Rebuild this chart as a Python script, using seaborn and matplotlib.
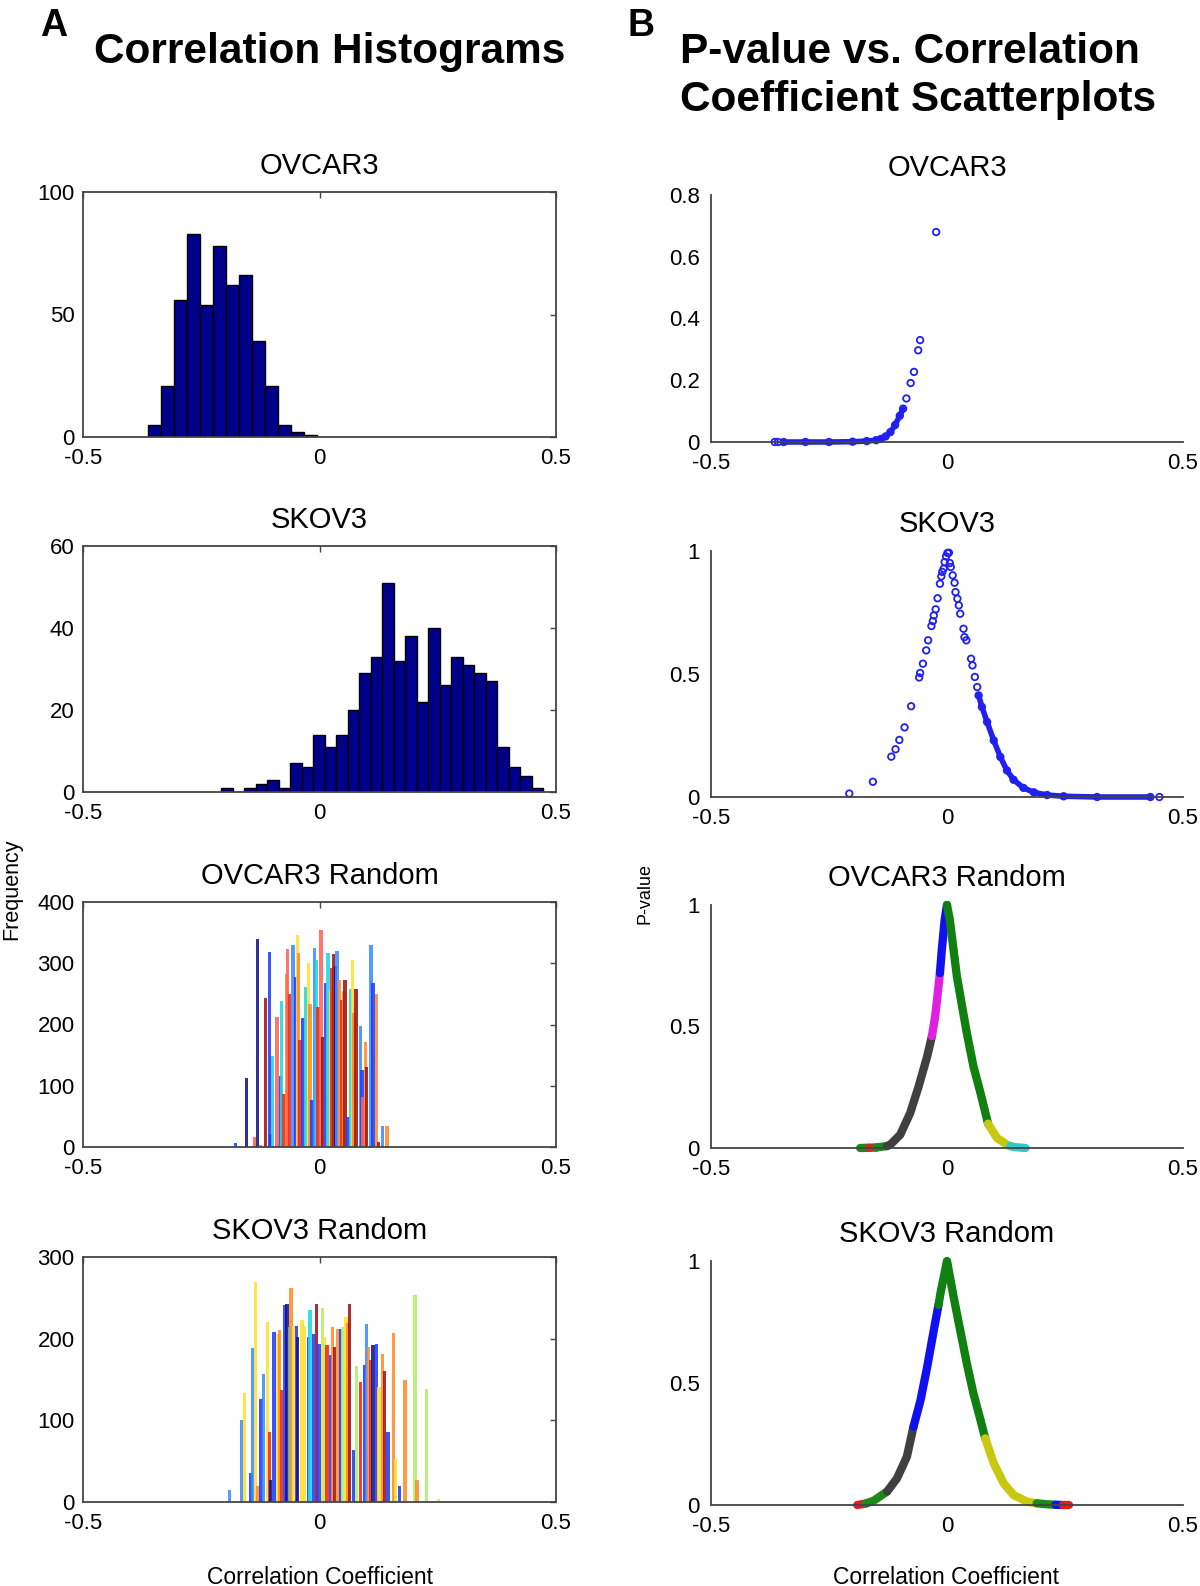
import numpy as np
import pandas as pd
import matplotlib
matplotlib.use("Agg")
import matplotlib.pyplot as plt
import seaborn as sns

# ---------------- panel A: correlation histograms ----------------
ovcar3_bin_start = -0.3635
ovcar3_bin_width = 0.0275
ovcar3_counts = [5, 21, 56, 83, 54, 78, 62, 66, 39, 21, 5, 2, 1]

skov3_bin_start = -0.2078
skov3_bin_width = 0.02433
skov3_counts = [1, 0, 1, 2, 3, 1, 7, 6, 14, 11, 14, 20, 29, 33, 51, 32, 38, 22,
                40, 26, 33, 31, 29, 27, 11, 6, 4, 1]

# random permutations: one thin bar per (correlation, count, colour)
ovr_rand_x = [-0.178, -0.154, -0.138, -0.131, -0.125, -0.1135, -0.106, -0.104, -0.099,
              -0.090, -0.082, -0.080, -0.075, -0.070, -0.067, -0.063, -0.056, -0.051,
              -0.047, -0.044, -0.041, -0.035, -0.030, -0.023, -0.020, -0.016, -0.011,
              -0.006, -0.003, 0.003, 0.006, 0.012, 0.018, 0.023, 0.026, 0.030, 0.034,
              0.037, 0.042, 0.047, 0.051, 0.054, 0.060, 0.065, 0.070, 0.073, 0.077,
              0.086, 0.090, 0.092, 0.097, 0.100, 0.109, 0.113, 0.120, 0.125, 0.133, 0.143]
ovr_rand_h = [7, 113, 16, 339, 3, 243, 319, 21, 148,
              213, 116, 238, 87, 283, 323, 250, 330, 278,
              346, 317, 174, 210, 262, 300, 234, 76, 325,
              306, 229, 355, 180, 267, 316, 256, 293, 315, 295,
              320, 272, 240, 255, 272, 49, 258, 305, 218, 258,
              198, 125, 82, 172, 131, 329, 267, 250, 8, 35, 34]
ovr_rand_c = ["b", "db", "s", "db", "c", "dr", "b", "b", "c",
              "s", "b", "c", "r", "o", "s", "r", "lb", "b",
              "y", "o", "r", "b", "c", "y", "o", "b", "lb",
              "c", "r", "s", "dr", "b", "c", "y", "r", "dr", "db",
              "lb", "o", "r", "o", "dr", "b", "c", "y", "o", "dr",
              "lb", "b", "s", "o", "dr", "lb", "b", "o", "dr", "lb", "o"]

skv_rand_x = [-0.190, -0.165, -0.159, -0.145, -0.142, -0.135, -0.130, -0.124, -0.118,
              -0.110, -0.106, -0.103, -0.096, -0.088, -0.084, -0.080, -0.073, -0.069,
              -0.064, -0.060, -0.055, -0.049, -0.047, -0.037, -0.032, -0.023, -0.020,
              -0.013, -0.007, -0.001, 0.006, 0.011, 0.016, 0.023, 0.027, 0.032, 0.039,
              0.044, 0.049, 0.056, 0.060, 0.064, 0.072, 0.078, 0.087, 0.095, 0.099,
              0.104, 0.108, 0.113, 0.121, 0.126, 0.133, 0.137, 0.145, 0.157, 0.161,
              0.169, 0.181, 0.202, 0.206, 0.226, 0.252]
skv_rand_h = [15, 100, 133, 35, 189, 269, 20, 126, 157,
              220, 86, 27, 208, 206, 211, 137, 241, 242,
              214, 262, 216, 216, 202, 223, 216, 202, 235,
              206, 242, 194, 237, 202, 192, 180, 214, 190, 212,
              212, 214, 226, 219, 242, 64, 166, 147, 168, 218,
              190, 174, 192, 194, 141, 181, 161, 86, 207, 53,
              19, 149, 253, 27, 138, 4]
skv_rand_c = ["lb", "lb", "y", "b", "lb", "y", "o", "b", "lb",
              "y", "r", "db", "b", "y", "o", "r", "b", "db",
              "c", "o", "y", "b", "db", "y", "y", "b", "c",
              "b", "dr", "b", "g", "y", "r", "b", "o", "dr", "o",
              "b", "g", "y", "o", "dr", "b", "g", "r", "b", "lb",
              "o", "r", "db", "b", "y", "o", "dr", "b", "o", "y",
              "b", "o", "g", "o", "g", "y"]

bar_palette = {"db": "#14148C", "b": "#1E3CFF", "lb": "#3C8CFF", "c": "#20D8E8",
               "g": "#B0F070", "y": "#FFE030", "o": "#FF8C28", "r": "#F02814",
               "dr": "#A01414", "s": "#FF6458"}

# ---------------- panel B: p-value vs correlation ----------------
ovcar3_band_r = [-0.346, -0.30, -0.25, -0.20, -0.17, -0.15, -0.14, -0.13, -0.12, -0.11, -0.10, -0.093]
ovcar3_band_p = [0.0, 0.0, 0.0, 0.001, 0.003, 0.006, 0.010, 0.018, 0.032, 0.055, 0.085, 0.108]
ovcar3_pts_r = [-0.365, -0.358, -0.086, -0.077, -0.070, -0.061, -0.057, -0.023]
ovcar3_pts_p = [0.0, 0.0, 0.141, 0.191, 0.227, 0.297, 0.330, 0.680]

skov3_band_r = [0.067, 0.074, 0.085, 0.099, 0.113, 0.127, 0.141, 0.162, 0.184, 0.212, 0.247, 0.318, 0.431]
skov3_band_p = [0.413, 0.366, 0.305, 0.230, 0.163, 0.108, 0.070, 0.037, 0.019, 0.008, 0.003, 0.0, 0.0]
skov3_pts_r = [-0.207, -0.157, -0.118, -0.109, -0.101, -0.090, -0.076, -0.059, -0.057, -0.051,
               -0.044, -0.040, -0.033, -0.030, -0.028, -0.024, -0.020, -0.015, -0.012, -0.010,
               -0.007, -0.005, -0.002, 0.001, 0.004, 0.006, 0.008, 0.012, 0.016, 0.018,
               0.022, 0.025, 0.028, 0.035, 0.037, 0.041, 0.051, 0.054, 0.059, 0.064, 0.450]
skov3_pts_p = [0.014, 0.062, 0.164, 0.194, 0.232, 0.283, 0.369, 0.486, 0.504, 0.542,
               0.596, 0.637, 0.695, 0.715, 0.738, 0.763, 0.808, 0.867, 0.897, 0.915,
               0.928, 0.955, 0.978, 0.992, 0.993, 0.951, 0.935, 0.901, 0.871, 0.833,
               0.806, 0.779, 0.745, 0.684, 0.650, 0.637, 0.562, 0.535, 0.488, 0.447, 0.0]

ovr_curve_r = [-0.184, -0.165, -0.165, -0.150, -0.150, -0.127, -0.127, -0.120, -0.099, -0.078,
               -0.060, -0.042, -0.032, -0.032, -0.025, -0.018, -0.015, -0.015, -0.011, -0.005,
               0.0, 0.0, 0.006, 0.013, 0.021, 0.032, 0.042, 0.056, 0.071, 0.087,
               0.087, 0.106, 0.127, 0.134, 0.134, 0.141, 0.166]
ovr_curve_p = [0.0, 0.001, 0.001, 0.002, 0.002, 0.008, 0.008, 0.014, 0.055, 0.144,
               0.254, 0.377, 0.460, 0.460, 0.542, 0.666, 0.72, 0.72, 0.815, 0.938,
               1.0, 1.0, 0.938, 0.829, 0.706, 0.583, 0.473, 0.336, 0.226, 0.100,
               0.100, 0.041, 0.014, 0.008, 0.008, 0.004, 0.0]
ovr_curve_seg = [0, 0, 1, 1, 2, 2, 3, 3, 3, 3,
                 3, 3, 3, 4, 4, 4, 4, 5, 5, 5,
                 5, 6, 6, 6, 6, 6, 6, 6, 6, 6,
                 7, 7, 7, 7, 8, 8, 8]
ovr_seg_colors = ["#1A8A1A", "#E02020", "#1A8A1A", "#404040", "#E020E0",
                  "#1010F0", "#108010", "#C8C810", "#30C8C8"]

skv_curve_r = [-0.190, -0.172, -0.172, -0.155, -0.127, -0.127, -0.106, -0.085, -0.071,
               -0.071, -0.056, -0.042, -0.028, -0.018, -0.018, -0.014, 0.0, 0.014, 0.028,
               0.042, 0.056, 0.071, 0.081, 0.081, 0.099, 0.120, 0.141, 0.169, 0.190,
               0.190, 0.212, 0.230, 0.230, 0.245, 0.245, 0.258]
skv_curve_p = [0.0, 0.006, 0.006, 0.018, 0.055, 0.055, 0.109, 0.198, 0.321,
               0.321, 0.430, 0.566, 0.716, 0.820, 0.820, 0.866, 1.0, 0.853, 0.716,
               0.580, 0.457, 0.348, 0.273, 0.273, 0.171, 0.089, 0.041, 0.014, 0.007,
               0.007, 0.003, 0.001, 0.001, 0.0, 0.0, 0.0]
skv_curve_seg = [0, 0, 1, 1, 1, 2, 2, 2, 2,
                 3, 3, 3, 3, 3, 4, 4, 4, 4, 4,
                 4, 4, 4, 4, 5, 5, 5, 5, 5, 5,
                 6, 6, 6, 7, 7, 8, 8]
skv_seg_colors = ["#E02020", "#1A8A1A", "#404040", "#1010F0", "#108010",
                  "#C8C810", "#1A8A1A", "#1010F0", "#E02020"]

W, H = 1200, 1586
sns.set_theme(style="white")
plt.rcParams["font.family"] = ["Liberation Sans", "DejaVu Sans"]
plt.rcParams["text.color"] = "black"
plt.rcParams["axes.titlecolor"] = "black"

fig = plt.figure(figsize=(W / 100, H / 100), dpi=100)


def px_axes(left, top, right, bottom):
    return fig.add_axes([left / W, 1 - bottom / H, (right - left) / W, (bottom - top) / H])


def style_left(ax, ymax, yticks, title):
    ax.set_xlim(-0.5, 0.5)
    ax.set_ylim(0, ymax)
    ax.set_xticks([-0.5, 0, 0.5])
    ax.set_xticklabels(["-0.5", "0", "0.5"])
    ax.set_yticks(yticks)
    ax.set_yticklabels([str(t) for t in yticks])
    ax.tick_params(direction="in", length=4, width=1, top=True, right=True,
                   labelsize=16, color="#444444", labelcolor="black", pad=8)
    ax.tick_params(axis="y", pad=6)
    for s in ax.spines.values():
        s.set_visible(True)
        s.set_color("#444444")
        s.set_linewidth(1.3)
    ax.set_xlabel("")
    ax.set_ylabel("")
    ax.set_title(title, fontsize=21, pad=13, color="black")


def style_right(ax, ymax, yticks, ylabels, title):
    ax.set_xlim(-0.5, 0.5)
    ax.set_ylim(0, ymax)
    ax.set_xticks([-0.5, 0, 0.5])
    ax.set_xticklabels(["-0.5", "0", "0.5"])
    ax.set_yticks(yticks)
    ax.set_yticklabels(ylabels)
    ax.tick_params(direction="in", length=4, width=1, labelsize=16,
                   color="#444444", labelcolor="black", pad=8)
    ax.spines["top"].set_visible(False)
    ax.spines["right"].set_visible(False)
    for k in ("left", "bottom"):
        ax.spines[k].set_color("#444444")
        ax.spines[k].set_linewidth(1.3)
    ax.set_xlabel("")
    ax.set_ylabel("")
    ax.set_title(title, fontsize=21, pad=14, color="black")


def hist_panel(ax, start, width, counts):
    n = len(counts)
    edges = [start + width * i for i in range(n + 1)]
    df = pd.DataFrame({"r": [start + width * (i + 0.5) for i in range(n)],
                       "n": counts})
    sns.histplot(data=df, x="r", weights="n", bins=edges, color="#00008B",
                 edgecolor="black", linewidth=1, alpha=1, ax=ax)


def rand_bars(ax, xs, hs, cs):
    ax.bar(xs, hs, width=0.007, color=[bar_palette[c] for c in cs],
           alpha=0.88, linewidth=0)


def open_circles(ax, r, p):
    sns.scatterplot(x=r, y=p, ax=ax, marker="o", s=22, facecolors="none",
                    edgecolor="#2020F0", linewidth=1.3, clip_on=False)


def seg_curve(ax, r, p, seg, colors):
    df = pd.DataFrame({"r": r, "p": p, "seg": seg})
    sns.lineplot(data=df, x="r", y="p", hue="seg", palette=colors, sort=False,
                 estimator=None, linewidth=6, legend=False, ax=ax, clip_on=False,
                 solid_capstyle="round")


# left column
ax = px_axes(83, 192, 556, 437)
hist_panel(ax, ovcar3_bin_start, ovcar3_bin_width, ovcar3_counts)
style_left(ax, 100, [0, 50, 100], "OVCAR3")

ax = px_axes(83, 546, 556, 792)
hist_panel(ax, skov3_bin_start, skov3_bin_width, skov3_counts)
style_left(ax, 60, [0, 20, 40, 60], "SKOV3")

ax = px_axes(83, 902, 556, 1147)
rand_bars(ax, ovr_rand_x, ovr_rand_h, ovr_rand_c)
style_left(ax, 400, [0, 100, 200, 300, 400], "OVCAR3 Random")

ax = px_axes(83, 1257, 556, 1502)
rand_bars(ax, skv_rand_x, skv_rand_h, skv_rand_c)
style_left(ax, 300, [0, 100, 200, 300], "SKOV3 Random")

# right column
ax = px_axes(711, 195, 1183, 442)
sns.lineplot(x=ovcar3_band_r, y=ovcar3_band_p, ax=ax, color="#2020F0", linewidth=4,
             clip_on=False, estimator=None, sort=False)
open_circles(ax, ovcar3_band_r, ovcar3_band_p)
open_circles(ax, ovcar3_pts_r, ovcar3_pts_p)
style_right(ax, 0.8, [0, 0.2, 0.4, 0.6, 0.8], ["0", "0.2", "0.4", "0.6", "0.8"], "OVCAR3")

ax = px_axes(711, 551, 1183, 797)
sns.lineplot(x=skov3_band_r, y=skov3_band_p, ax=ax, color="#2020F0", linewidth=4,
             clip_on=False, estimator=None, sort=False)
open_circles(ax, skov3_band_r, skov3_band_p)
open_circles(ax, skov3_pts_r, skov3_pts_p)
style_right(ax, 1, [0, 0.5, 1], ["0", "0.5", "1"], "SKOV3")

ax = px_axes(711, 905, 1183, 1148)
seg_curve(ax, ovr_curve_r, ovr_curve_p, ovr_curve_seg, ovr_seg_colors)
style_right(ax, 1, [0, 0.5, 1], ["0", "0.5", "1"], "OVCAR3 Random")

ax = px_axes(711, 1261, 1183, 1505)
seg_curve(ax, skv_curve_r, skv_curve_p, skv_curve_seg, skv_seg_colors)
style_right(ax, 1, [0, 0.5, 1], ["0", "0.5", "1"], "SKOV3 Random")

# headings and shared labels
fig.text(40 / W, 1 - 36 / H, "A", fontsize=27, fontweight="bold", va="baseline")
fig.text(94 / W, 1 - 63 / H, "Correlation Histograms", fontsize=30.5,
         fontweight="bold", va="baseline")
fig.text(628 / W, 1 - 36 / H, "B", fontsize=27, fontweight="bold", va="baseline")
fig.text(680 / W, 1 - 63 / H, "P-value vs. Correlation", fontsize=30.5,
         fontweight="bold", va="baseline")
fig.text(680 / W, 1 - 111 / H, "Coefficient Scatterplots", fontsize=30.5,
         fontweight="bold", va="baseline")

fig.text(12 / W, 1 - 889 / H, "Frequency", fontsize=15.5, rotation=90,
         ha="center", va="center")
fig.text(645 / W, 1 - 894 / H, "P-value", fontsize=13, rotation=90,
         ha="center", va="center")
fig.text(320 / W, 1 - 1577 / H, "Correlation Coefficient", fontsize=16.5,
         ha="center", va="center")
fig.text(946 / W, 1 - 1577 / H, "Correlation Coefficient", fontsize=16.5,
         ha="center", va="center")

fig.savefig("out.png", dpi=100)
